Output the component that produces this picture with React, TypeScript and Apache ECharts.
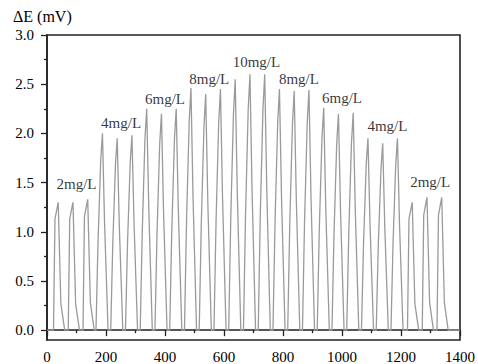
import React, { useEffect, useRef } from "react";
import * as echarts from "echarts";

// Recorded potential response, [time (s), ΔE (mV)]
const trace: [number, number][] = [
  [0, 0],
  [22, 0], [27, 1.13], [38, 1.30], [47, 0.27], [60, 0],
  [72, 0], [77, 1.13], [88, 1.30], [97, 0.27], [110, 0],
  [122, 0], [127, 1.16], [138, 1.33], [147, 0.28], [160, 0],
  [166, 0], [173, 0.90], [182, 1.72], [188, 2.00], [195, 1.10], [207, 0],
  [216, 0], [223, 0.88], [232, 1.68], [238, 1.95], [245, 1.07], [257, 0],
  [266, 0], [273, 0.89], [282, 1.70], [288, 1.98], [295, 1.09], [307, 0],
  [316, 0], [323, 1.01], [332, 1.94], [338, 2.25], [345, 1.24], [357, 0],
  [366, 0], [373, 0.99], [382, 1.89], [388, 2.20], [395, 1.21], [407, 0],
  [416, 0], [423, 1.01], [432, 1.94], [438, 2.25], [445, 1.24], [457, 0],
  [466, 0], [473, 1.11], [482, 2.12], [488, 2.46], [495, 1.35], [507, 0],
  [516, 0], [523, 1.08], [532, 2.06], [538, 2.40], [545, 1.32], [557, 0],
  [566, 0], [573, 1.10], [582, 2.11], [588, 2.45], [595, 1.35], [607, 0],
  [616, 0], [623, 1.15], [632, 2.19], [638, 2.55], [645, 1.40], [657, 0],
  [666, 0], [673, 1.17], [682, 2.24], [688, 2.60], [695, 1.43], [707, 0],
  [716, 0], [723, 1.17], [732, 2.24], [738, 2.60], [745, 1.43], [757, 0],
  [766, 0], [773, 1.10], [782, 2.11], [788, 2.45], [795, 1.35], [807, 0],
  [816, 0], [823, 1.09], [832, 2.09], [838, 2.43], [845, 1.34], [857, 0],
  [866, 0], [873, 1.10], [882, 2.10], [888, 2.44], [895, 1.34], [907, 0],
  [916, 0], [923, 1.02], [932, 1.94], [938, 2.26], [945, 1.24], [957, 0],
  [966, 0], [973, 0.99], [982, 1.89], [988, 2.20], [995, 1.21], [1007, 0],
  [1016, 0], [1023, 0.99], [1032, 1.90], [1038, 2.21], [1045, 1.22], [1057, 0],
  [1066, 0], [1073, 0.88], [1082, 1.68], [1088, 1.95], [1095, 1.07], [1107, 0],
  [1116, 0], [1123, 0.86], [1132, 1.63], [1138, 1.90], [1145, 1.05], [1157, 0],
  [1166, 0], [1173, 0.88], [1182, 1.68], [1188, 1.95], [1195, 1.07], [1207, 0],
  [1222, 0], [1227, 1.13], [1238, 1.30], [1247, 0.27], [1260, 0],
  [1272, 0], [1277, 1.17], [1288, 1.35], [1297, 0.28], [1310, 0],
  [1322, 0], [1327, 1.17], [1338, 1.35], [1347, 0.28], [1360, 0],
  [1400, 0],
];

// Concentration annotations
const concLabels = ["2mg/L", "4mg/L", "6mg/L", "8mg/L", "10mg/L", "8mg/L", "6mg/L", "4mg/L", "2mg/L"];
const concLabelTime = [100, 251, 400, 550, 710, 854, 1000, 1154, 1299];
const concLabelLevel = [1.49, 2.11, 2.35, 2.55, 2.73, 2.55, 2.36, 2.08, 1.51];

// Axis ticks
const yMajorTicks = [0, 0.5, 1.0, 1.5, 2.0, 2.5, 3.0];
const yMinorTicks = [0.25, 0.75, 1.25, 1.75, 2.25, 2.75];

const FONT = "Liberation Serif, DejaVu Serif, serif";
const INK = "#000";
const AXIS = "#222";

export default function App() {
  const ref = useRef<HTMLDivElement>(null);
  useEffect(() => {
    if (!ref.current) return;
    const chart = echarts.init(ref.current, undefined, { renderer: "svg" });
    const labelData = concLabels.map((t, i) => [concLabelTime[i], concLabelLevel[i], t]);
    chart.setOption({
      animation: false,
      backgroundColor: "#fff",
      textStyle: { fontFamily: FONT },
      grid: {
        left: 47,
        right: 12,
        top: 35,
        bottom: 24,
        show: true,
        borderColor: AXIS,
        borderWidth: 1.6,
        backgroundColor: "transparent",
      },
      graphic: [
        {
          type: "text",
          x: 13,
          y: 16,
          style: {
            text: "ΔE (mV)",
            fontFamily: FONT,
            fontSize: 16,
            fill: INK,
            verticalAlign: "middle",
            align: "left",
          },
        },
      ],
      xAxis: {
        type: "value",
        min: 0,
        max: 1400,
        interval: 200,
        axisLine: { show: true, lineStyle: { color: AXIS, width: 1.6 } },
        axisTick: { show: true, length: 6, lineStyle: { color: AXIS, width: 1.3 } },
        minorTick: { show: true, splitNumber: 2, length: 3, lineStyle: { color: AXIS, width: 1.3 } },
        splitLine: { show: false },
        minorSplitLine: { show: false },
        axisLabel: {
          fontFamily: FONT,
          fontSize: 15,
          color: INK,
          margin: 9,
          formatter: (v: number) => String(v),
        },
      },
      yAxis: [
        {
          type: "value",
          min: -0.1,
          max: 3.0,
          position: "left",
          axisLine: { show: true, lineStyle: { color: AXIS, width: 1.6 } },
          axisTick: { show: true, length: 6, customValues: yMajorTicks, lineStyle: { color: AXIS, width: 1.3 } },
          axisLabel: {
            customValues: yMajorTicks,
            fontFamily: FONT,
            fontSize: 15,
            color: INK,
            margin: 13,
            formatter: (v: number) => v.toFixed(1),
          },
          splitLine: { show: false },
        },
        {
          type: "value",
          min: -0.1,
          max: 3.0,
          position: "left",
          offset: 0,
          axisLine: { show: false },
          axisTick: { show: true, length: 3, customValues: yMinorTicks, lineStyle: { color: AXIS, width: 1.3 } },
          axisLabel: { show: false },
          splitLine: { show: false },
        },
      ],
      series: [
        {
          type: "line",
          data: trace,
          showSymbol: false,
          symbol: "none",
          lineStyle: { color: "#9a9a9a", width: 1.3 },
          silent: true,
          z: 2,
        },
        {
          type: "scatter",
          data: labelData,
          symbol: "circle",
          symbolSize: 1,
          itemStyle: { color: "rgba(0,0,0,0)" },
          silent: true,
          label: {
            show: true,
            position: "inside",
            formatter: (p: any) => p.data[2],
            fontFamily: FONT,
            fontSize: 15,
            color: INK,
          },
          z: 3,
        },
      ],
    });
    return () => chart.dispose();
  }, []);
  return (
    <div
      ref={ref}
      style={{ position: "fixed", left: 0, top: 0, width: 478, height: 364, background: "#fff" }}
    />
  );
}
